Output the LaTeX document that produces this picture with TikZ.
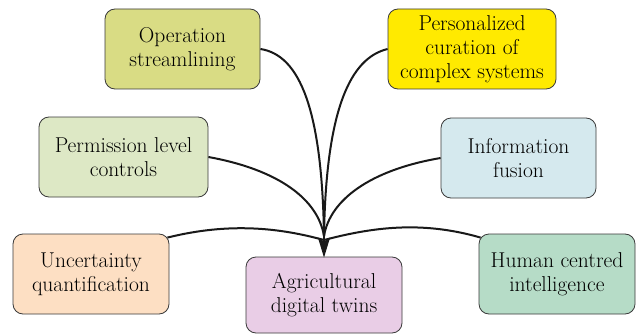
\documentclass[tikz,border=0pt]{standalone}
\usetikzlibrary{arrows.meta}
\definecolor{cop}{HTML}{D9DC84}
\definecolor{cpers}{HTML}{FFEA00}
\definecolor{cperm}{HTML}{DDE8C5}
\definecolor{cinfo}{HTML}{D5E9EE}
\definecolor{cunc}{HTML}{FDDFC3}
\definecolor{cagri}{HTML}{E9CDE6}
\definecolor{chum}{HTML}{B6DCC7}
\definecolor{cborder}{HTML}{3A3A3A}
\begin{document}
\begin{tikzpicture}[x=1pt,y=1pt,
  box/.style={draw=cborder, line width=0.8pt, rounded corners=10pt,
    minimum height=80pt, align=center, inner sep=1pt,
    font=\rmfamily\fontsize{21.5}{24}\selectfont, text=black},
  link/.style={line width=2pt, draw=black!90}]
\useasboundingbox (0,0) rectangle (636,-334);
\fill[white] (0,0) rectangle (636,-334);
\node[box, fill=cop, minimum width=155pt] (op) at (182.5,-49) {Operation\\streamlining};
\node[box, fill=cpers, minimum width=168pt] (pers) at (472,-49) {Personalized\\curation of\\complex systems};
\node[box, fill=cperm, minimum width=169pt] (perm) at (123.5,-157) {Permission level\\controls};
\node[box, fill=cinfo, minimum width=155pt] (info) at (518.5,-158) {Information\\fusion};
\node[box, fill=cunc, minimum width=156pt] (unc) at (91,-274) {Uncertainty\\quantification};
\node[box, fill=chum, minimum width=156pt] (hum) at (557,-274) {Human centred\\intelligence};
\node[box, fill=cagri, minimum width=156pt, minimum height=76pt] (agri) at (324,-295) {Agricultural\\digital twins};
\coordinate (m) at (324,-236);
\coordinate (ms) at (324,-240);
\draw[link] (op.east) .. controls (300,-55) and (322,-110) .. (m);
\draw[link] (pers.west) .. controls (350,-58) and (326,-110) .. (m);
\draw[link] (perm.east) .. controls (280,-170) and (318,-200) .. (m);
\draw[link] (info.west) .. controls (370,-170) and (330,-200) .. (m);
\draw[link] ([xshift=-2pt,yshift=-4pt]unc.north east) .. controls (230,-222) and (280,-228) .. (ms);
\draw[link] ([xshift=2pt,yshift=-4pt]hum.north west) .. controls (420,-220) and (370,-228) .. (ms);
\draw[link, -{Stealth[length=20pt,width=12pt,inset=4pt]}, shorten >=-1pt] (m) -- (agri.north);
\end{tikzpicture}
\end{document}
